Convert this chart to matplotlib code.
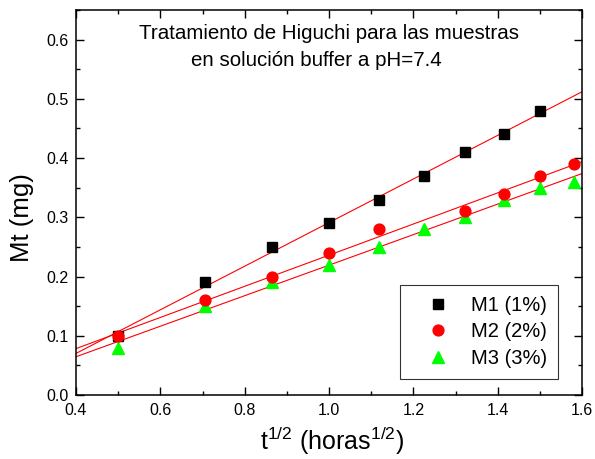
import numpy as np
import matplotlib
matplotlib.use("Agg")
import matplotlib.pyplot as plt
from matplotlib.ticker import MultipleLocator

plt.rcParams['font.family'] = ['Liberation Sans', 'DejaVu Sans']
plt.rcParams['mathtext.default'] = 'regular'

x_m1 = [0.5, 0.707, 0.866, 1.0, 1.118, 1.225, 1.323, 1.414, 1.5]
y_m1 = [0.10, 0.19, 0.25, 0.29, 0.33, 0.37, 0.41, 0.44, 0.48]
x_m2 = [0.5, 0.707, 0.866, 1.0, 1.118, 1.323, 1.414, 1.5, 1.581]
y_m2 = [0.10, 0.16, 0.20, 0.24, 0.28, 0.31, 0.34, 0.37, 0.39]
x_m3 = [0.5, 0.707, 0.866, 1.0, 1.118, 1.225, 1.323, 1.414, 1.5, 1.581]
y_m3 = [0.08, 0.15, 0.19, 0.22, 0.25, 0.28, 0.30, 0.33, 0.35, 0.36]
labels = ['M1 (1%)', 'M2 (2%)', 'M3 (3%)']
xticks = [0.4, 0.6, 0.8, 1.0, 1.2, 1.4, 1.6]
yticks = [0.0, 0.1, 0.2, 0.3, 0.4, 0.5, 0.6]

fig = plt.figure(figsize=(5.95, 4.59), dpi=100)
ax = fig.add_axes([76/595, 64/459, 506/595, 385/459])

xf = np.array([0.4, 1.6])
for xs, ys in [(x_m1, y_m1), (x_m2, y_m2), (x_m3, y_m3)]:
    p = np.polyfit(xs, ys, 1)
    ax.plot(xf, np.polyval(p, xf), color='red', lw=0.8, zorder=1)

ax.plot(x_m1, y_m1, 's', color='black', ms=7.2, label=labels[0], zorder=3)
ax.plot(x_m2, y_m2, 'o', color='#ff0000', ms=7.8, label=labels[1], zorder=3)
ax.plot(x_m3, y_m3, '^', color='#00ff00', ms=9, label=labels[2], zorder=2)

ax.set_xlim(0.4, 1.6)
ax.set_ylim(0, 0.65)
ax.set_xticks(xticks)
ax.set_xticklabels([f'{v:.1f}' for v in xticks])
ax.set_yticks(yticks)
ax.set_yticklabels([f'{v:.1f}' for v in yticks])
ax.xaxis.set_minor_locator(MultipleLocator(0.1))
ax.yaxis.set_minor_locator(MultipleLocator(0.05))
ax.tick_params(which='both', direction='in', top=True, right=True, labelsize=11.5, width=1)
ax.tick_params(which='major', length=5.8)
ax.tick_params(which='minor', length=3.2)
ax.tick_params(axis='x', pad=6)
ax.tick_params(axis='y', pad=5.5)
for s in ax.spines.values():
    s.set_linewidth(1.1)

ax.set_xlabel('t$^{1/2}$ (horas$^{1/2}$)', fontsize=18)
ax.xaxis.set_label_coords(0.506, -0.078)
ax.set_ylabel('Mt (mg)', fontsize=18.5)
ax.yaxis.set_label_coords(-0.083, 0.46)

ax.text(0.5, 0.94, 'Tratamiento de Higuchi para las muestras', transform=ax.transAxes,
        ha='center', va='center', fontsize=14.8)
ax.text(0.476, 0.868, 'en solución buffer a pH=7.4', transform=ax.transAxes,
        ha='center', va='center', fontsize=14.8)

leg = ax.legend(loc='lower right', bbox_to_anchor=(0.9526, 0.0416), borderaxespad=0,
                fontsize=14.5, frameon=True, fancybox=False, edgecolor='black',
                handlelength=2.6, handletextpad=0.35, borderpad=0.55, labelspacing=0.37)
leg.get_frame().set_linewidth(0.8)

fig.savefig('out.png', dpi=100)
